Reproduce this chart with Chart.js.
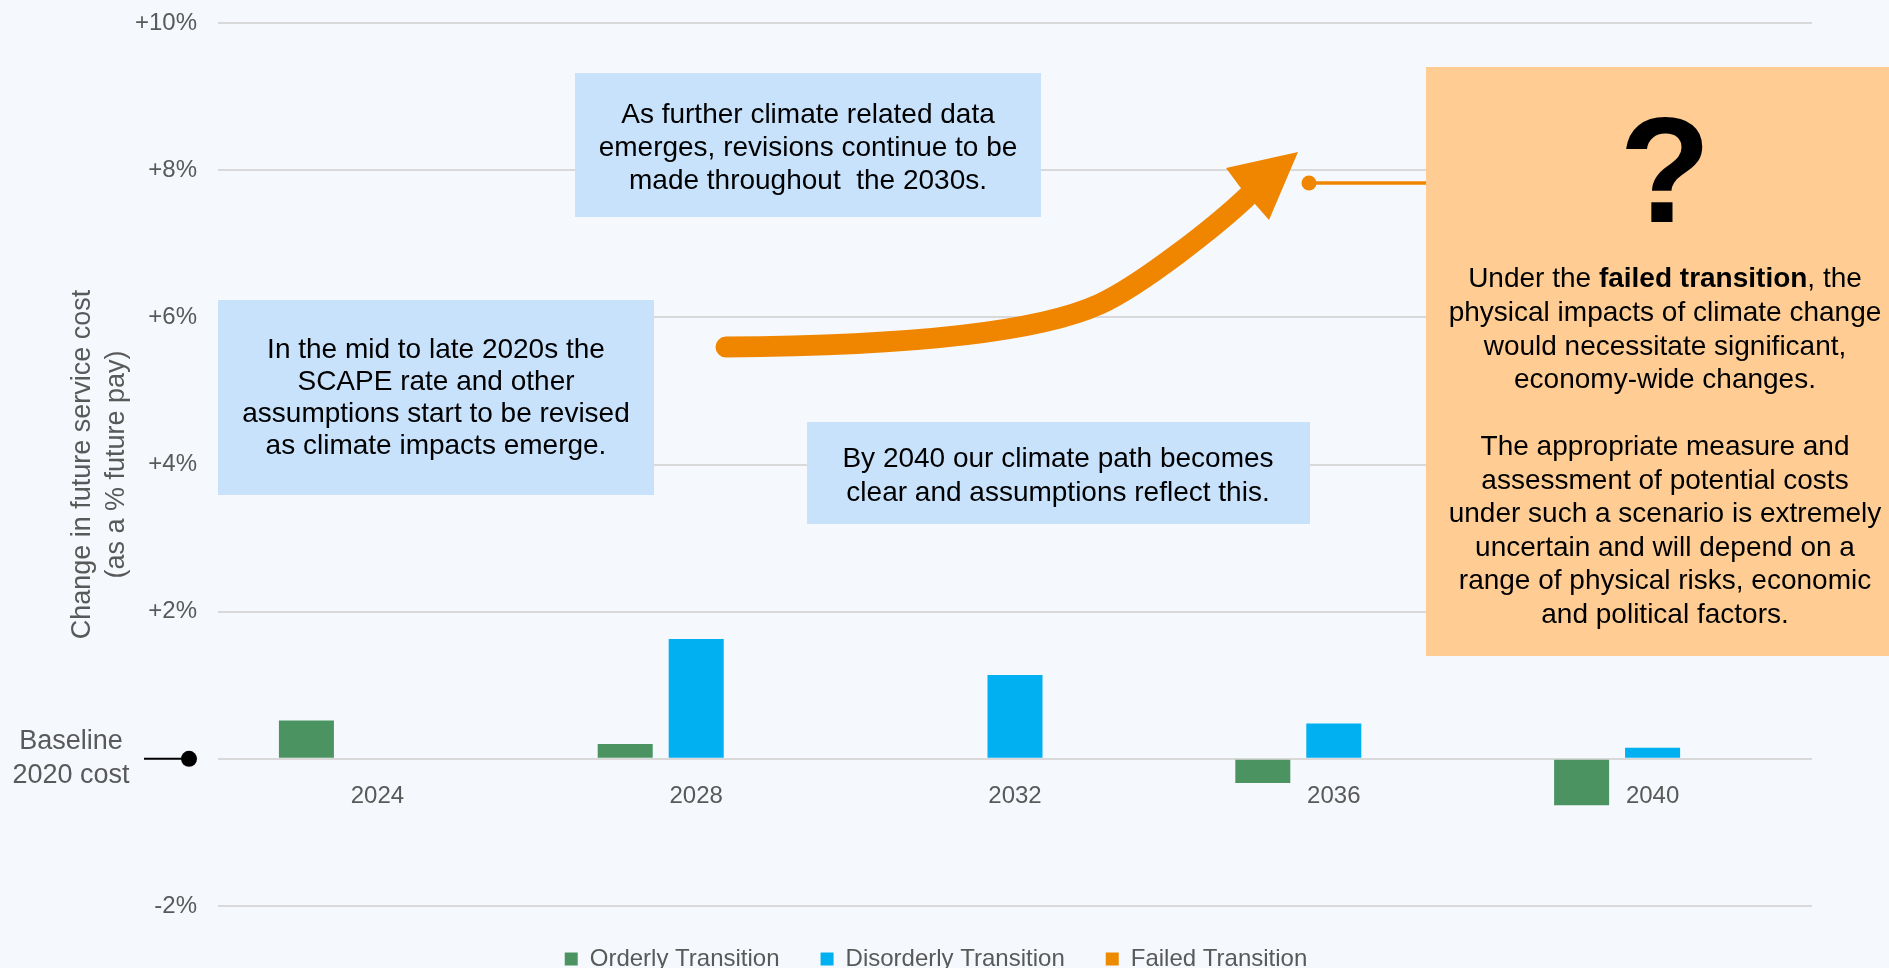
<!DOCTYPE html>
<html>
<head>
<meta charset="utf-8">
<title>Future service cost – climate scenarios</title>
<script src="https://cdn.jsdelivr.net/npm/chart.js@4.4.1/dist/chart.umd.min.js"></script>
<style>
  html, body { margin: 0; padding: 0; background: #F5F9FD; }
  #wrap { width: 1889px; height: 968px; position: relative; }
</style>
</head>
<body>
<div id="wrap"><canvas id="costChart"></canvas></div>
<script>
// ===== DATA =====
const years = ['2024', '2028', '2032', '2036', '2040'];
const orderly = [0.52, 0.2, 0, -0.33, -0.63];
const disorderly = [0, 1.63, 1.14, 0.48, 0.15];
const failed = [null, null, null, null, null];
const yMin = -2, yMax = 10, yStep = 2;

const GREY = '#595959';
const ORANGE = '#F08600';
const FONT = "'Liberation Sans', Arial, sans-serif";

// ===== ANNOTATIONS (boxes, arrow, baseline marker) =====
function textLines(ctx, lines, cx, y0, gap) {
  lines.forEach((l, i) => ctx.fillText(l, cx, y0 + i * gap));
}

const notes = {
  id: 'notes',
  afterDraw(chart) {
    const ctx = chart.ctx;
    const y0 = chart.scales.y.getPixelForValue(0);
    ctx.save();

    // baseline marker on the left
    ctx.fillStyle = GREY;
    ctx.font = '27px ' + FONT;
    ctx.textAlign = 'center';
    ctx.textBaseline = 'middle';
    ctx.fillText('Baseline', 71, y0 - 17);
    ctx.fillText('2020 cost', 71, y0 + 17);
    ctx.strokeStyle = '#000';
    ctx.lineWidth = 2;
    ctx.beginPath();
    ctx.moveTo(144, y0);
    ctx.lineTo(189, y0);
    ctx.stroke();
    ctx.fillStyle = '#000';
    ctx.beginPath();
    ctx.arc(189, y0, 8, 0, Math.PI * 2);
    ctx.fill();

    // blue note boxes
    ctx.fillStyle = '#C8E2FC';
    ctx.fillRect(575, 73, 466, 144);
    ctx.fillRect(218, 300, 436, 195);
    ctx.fillRect(807, 422, 503, 102);

    ctx.fillStyle = '#000';
    ctx.font = '28px ' + FONT;
    ctx.textBaseline = 'alphabetic';
    textLines(ctx, ['As further climate related data',
      'emerges, revisions continue to be',
      'made throughout  the 2030s.'], 808, 123, 33);
    textLines(ctx, ['In the mid to late 2020s the',
      'SCAPE rate and other',
      'assumptions start to be revised',
      'as climate impacts emerge.'], 436, 358, 32);
    textLines(ctx, ['By 2040 our climate path becomes',
      'clear and assumptions reflect this.'], 1058, 467, 34);

    // orange arrow: two joined bezier segments, then the head
    ctx.strokeStyle = ORANGE;
    ctx.fillStyle = ORANGE;
    ctx.lineWidth = 21;
    ctx.lineCap = 'round';
    ctx.lineJoin = 'round';
    ctx.beginPath();
    ctx.moveTo(726, 347);
    ctx.bezierCurveTo(870, 346, 1027, 337.5, 1100, 304);
    ctx.bezierCurveTo(1141, 285, 1216.6, 226, 1249, 195);
    ctx.stroke();
    ctx.beginPath();
    ctx.moveTo(1298, 152);
    ctx.lineTo(1269, 220);
    ctx.lineTo(1255, 204);
    ctx.lineTo(1240, 187);
    ctx.lineTo(1226, 168);
    ctx.closePath();
    ctx.fill();

    // connector to the failed-transition box
    ctx.lineWidth = 3.5;
    ctx.lineCap = 'butt';
    ctx.beginPath();
    ctx.moveTo(1309, 183);
    ctx.lineTo(1430, 183);
    ctx.stroke();
    ctx.beginPath();
    ctx.arc(1309, 183, 7.5, 0, Math.PI * 2);
    ctx.fill();

    // failed transition box
    ctx.fillStyle = '#FFCD94';
    ctx.fillRect(1426, 67, 480, 589);
    ctx.fillStyle = '#000';
    ctx.textAlign = 'center';
    ctx.font = 'bold 150px ' + FONT;
    ctx.fillText('?', 1665, 222);

    const cx = 1665;
    const parts = [['Under the ', ''], ['failed transition', 'bold '], [', the', '']];
    let total = 0;
    parts.forEach(p => { ctx.font = p[1] + '28px ' + FONT; p.push(ctx.measureText(p[0]).width); total += p[2]; });
    let x = cx - total / 2;
    ctx.textAlign = 'left';
    parts.forEach(p => { ctx.font = p[1] + '28px ' + FONT; ctx.fillText(p[0], x, 287); x += p[2]; });

    ctx.textAlign = 'center';
    ctx.font = '28px ' + FONT;
    textLines(ctx, ['physical impacts of climate change',
      'would necessitate significant,',
      'economy-wide changes.'], cx, 321, 33.6);
    textLines(ctx, ['The appropriate measure and',
      'assessment of potential costs',
      'under such a scenario is extremely',
      'uncertain and will depend on a',
      'range of physical risks, economic',
      'and political factors.'], cx, 455, 33.6);

    ctx.restore();
  }
};

// ===== CHART =====
const ctx = document.getElementById('costChart').getContext('2d');
new Chart(ctx, {
  type: 'bar',
  data: {
    labels: years,
    datasets: [
      { label: 'Orderly Transition', data: orderly, backgroundColor: '#4B9462' },
      { label: 'Disorderly Transition', data: disorderly, backgroundColor: '#00B0F0' },
      { label: 'Failed Transition', data: failed, backgroundColor: '#ED8B00' }
    ]
  },
  options: {
    responsive: true,
    maintainAspectRatio: false,
    animation: false,
    categoryPercentage: 0.668,
    barPercentage: 0.775,
    layout: { padding: { top: 23, right: 77, bottom: -13, left: 60 } },
    font: { family: FONT },
    plugins: {
      tooltip: { enabled: false },
      legend: {
        position: 'bottom',
        labels: {
          color: GREY,
          font: { family: FONT, size: 24 },
          boxWidth: 13,
          boxHeight: 13,
          padding: 41
        }
      }
    },
    scales: {
      x: {
        position: { y: 0 },
        grid: { display: false },
        border: { display: false },
        ticks: { color: GREY, font: { family: FONT, size: 24 }, padding: 15 }
      },
      y: {
        min: yMin,
        max: yMax,
        border: { display: false },
        grid: { color: '#D9D9D9', lineWidth: 2, drawTicks: false },
        ticks: {
          stepSize: yStep,
          color: GREY,
          font: { family: FONT, size: 24 },
          padding: 21,
          callback: v => v > 0 ? '+' + v + '%' : (v < 0 ? v + '%' : '')
        },
        title: {
          display: true,
          text: ['Change in future service cost', '(as a % future pay)'],
          color: GREY,
          font: { family: FONT, size: 27, lineHeight: 1.24 },
          padding: { top: 6, bottom: 2 }
        },
        // tick padding is counted twice by Chart.js; pin the axis width and top/bottom padding
        afterFit: s => { s.width = 158; s.paddingTop = 14; s.paddingBottom = 14; }
      }
    }
  },
  plugins: [notes]
});
</script>
</body>
</html>
